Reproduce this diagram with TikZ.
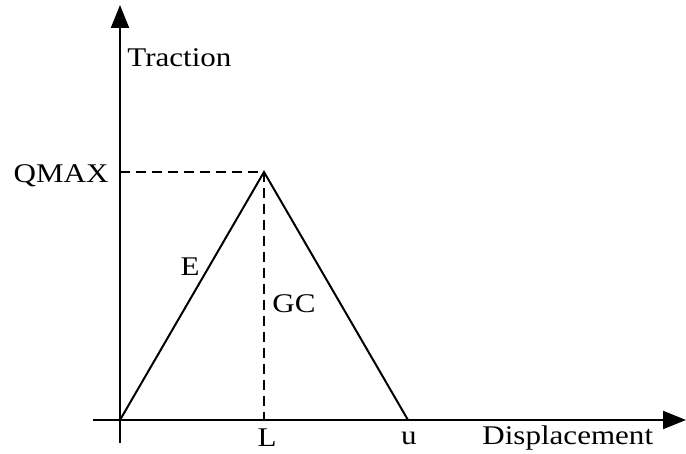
\documentclass[tikz,border=0pt]{standalone}
\usepackage{fontspec}
\setmainfont{Liberation Serif}[FakeStretch=1.15]
\usepackage{tikz}
\usetikzlibrary{arrows.meta, positioning}
\definecolor{plotdark}{HTML}{000000}
\newcommand{\lbl}[1]{\fontsize{13.5}{16}\selectfont #1}

\begin{document}
\begin{tikzpicture}[x=0.5pt, y=0.5pt,
    axisline/.style={plotdark, line width=1pt, -{Triangle[length=11.5pt, width=9pt]}},
    lawline/.style={plotdark, line width=1pt},
    guideline/.style={plotdark, line width=1pt, dash pattern=on 5pt off 3pt},
    txt/.style={plotdark, inner sep=0pt, font=\lbl{}}]
  \useasboundingbox (0,0) rectangle (686,454);

  % axes
  \coordinate (origin) at (120,34);
  \coordinate (ybot) at (120,11);
  \coordinate (ytop) at (120,449);
  \coordinate (xleft) at (93,34);
  \coordinate (xright) at (686,34);
  \draw[axisline] (ybot) -- (ytop);
  \draw[axisline] (xleft) -- (xright);

  % bilinear law: rise, peak, softening
  \coordinate (peak) at (264,282);
  \coordinate (peakfoot) at (264,34);
  \coordinate (peakleft) at (120,282);
  \coordinate (ufail) at (408,34);
  \draw[lawline] (origin) -- (peak) -- (ufail);
  \draw[guideline] (peakleft) -- (peak);
  \draw[guideline, line width=1.4pt] (peak) -- (peakfoot);

  % labels
  \node[txt, anchor=base west] (traction) at (127,387) {Traction};
  \node[txt, anchor=base east] (qmax) at (109,271) {QMAX};
  \node[txt, anchor=base] (elast) at (190,178) {E};
  \node[txt, anchor=base west] (gc) at (272,141) {GC};
  \node[txt, anchor=base] (lpt) at (267,7) {L};
  \node[txt, anchor=base] (upt) at (409,9) {u};
  \node[txt, anchor=base west] (displ) at (482,9) {Displacement};
\end{tikzpicture}
\end{document}
